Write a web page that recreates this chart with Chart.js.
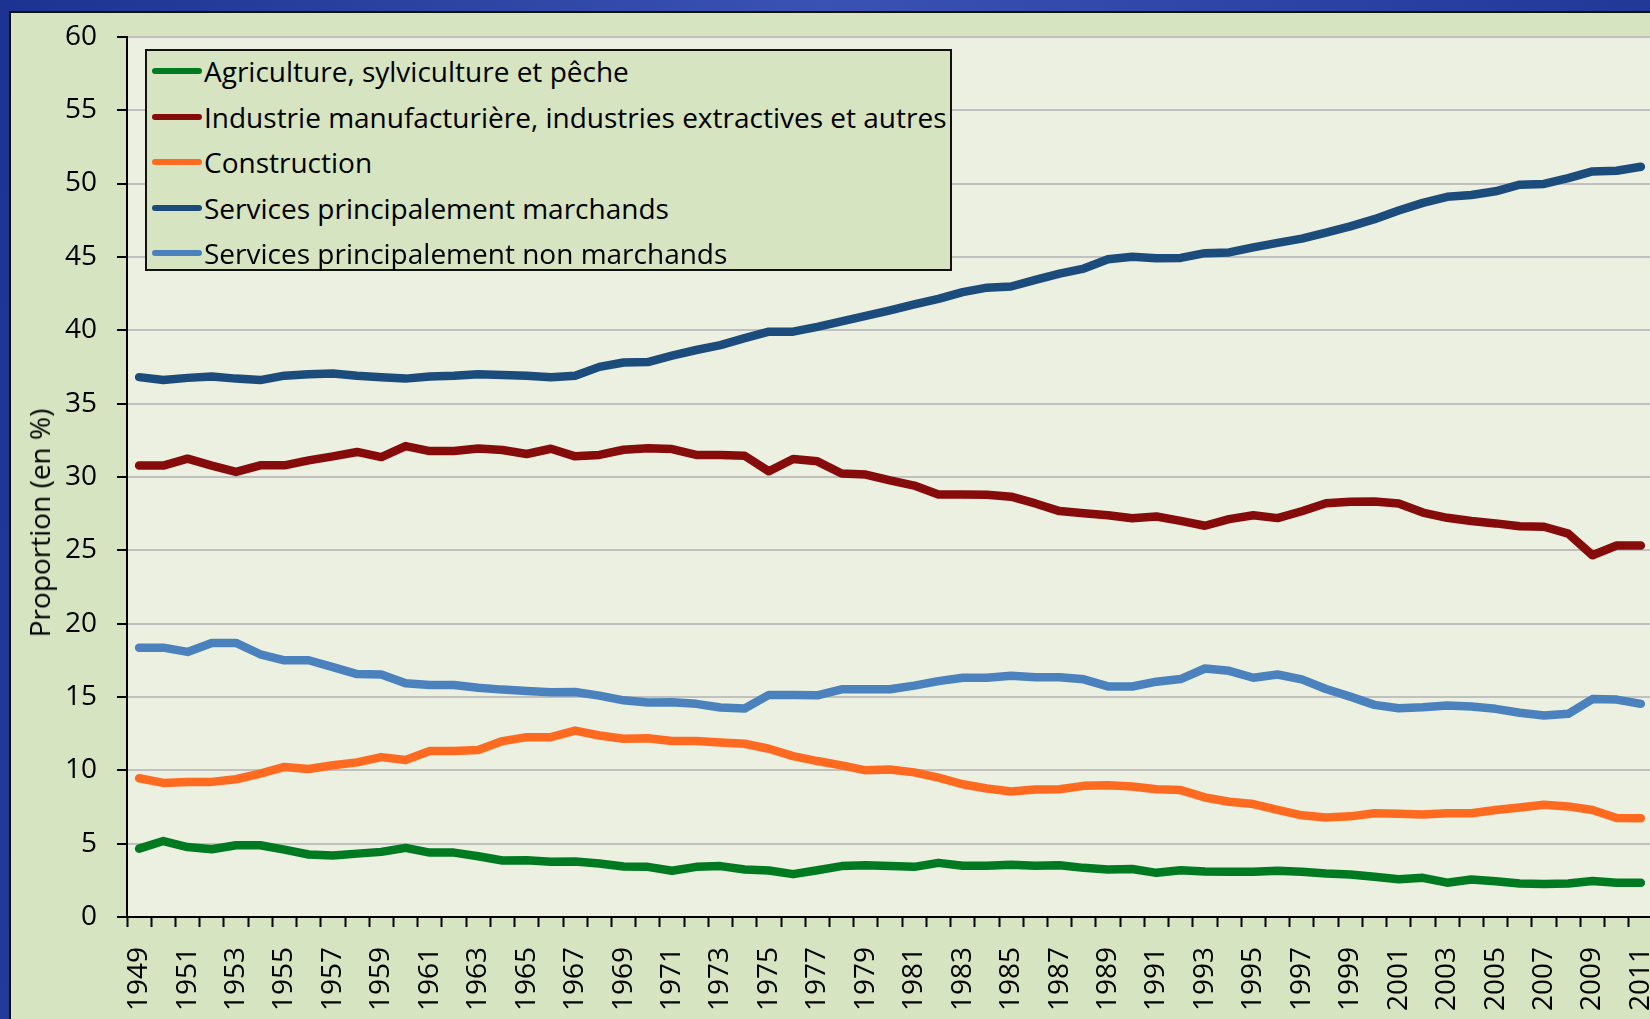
<!DOCTYPE html>
<html>
<head>
<meta charset="utf-8">
<script src="https://cdn.jsdelivr.net/npm/chart.js@4.4.0/dist/chart.umd.min.js"></script>
<style>
    html, body { margin: 0; padding: 0; width: 1650px; height: 1019px; overflow: hidden; }
    body { position: relative; background: linear-gradient(100deg, #1d3391 0%, #3a52b2 45%, #2b41a2 75%, #1d3391 100%); font-family: "Open Sans", sans-serif; }
    #panel { position: absolute; left: 9px; top: 11px; width: 1700px; height: 1100px; background: #d6e4c1; border-left: 2px solid #111; border-top: 2px solid #111; }
    #wrap { position: absolute; left: 0; top: 0; width: 1660px; height: 1019px; }
    #legend { position: absolute; left: 145px; top: 49px; width: 803px; height: 218px; background: #d6e4c1; border: 2px solid #111; }
    .item { position: absolute; left: 0; height: 30px; display: flex; align-items: center; font-size: 28px; color: #000; white-space: nowrap; }
    .swatch { width: 50px; height: 6px; border-radius: 3px; margin-left: 5px; margin-right: 2px; }
    #ytitle { position: absolute; left: 39px; top: 523px; transform: translate(-50%, -50%) rotate(-90deg); font-size: 28px; color: #000; white-space: nowrap; }
</style>
</head>
<body>
<div id="panel"></div>
<div id="wrap"><canvas id="chart" width="1660" height="1019"></canvas></div>
<div id="legend"></div>
<div id="ytitle">Proportion (en %)</div>
<script>
// Données (en % de l'emploi)
const years = ['1949','1950','1951','1952','1953','1954','1955','1956','1957','1958',
    '1959','1960','1961','1962','1963','1964','1965','1966','1967','1968',
    '1969','1970','1971','1972','1973','1974','1975','1976','1977','1978',
    '1979','1980','1981','1982','1983','1984','1985','1986','1987','1988',
    '1989','1990','1991','1992','1993','1994','1995','1996','1997','1998',
    '1999','2000','2001','2002','2003','2004','2005','2006','2007','2008',
    '2009','2010','2011'];

const agriculture = [4.66,5.18,4.77,4.62,4.89,4.89,4.59,4.26,4.19,4.32,
    4.44,4.71,4.39,4.39,4.14,3.85,3.87,3.76,3.78,3.65,
    3.44,3.42,3.15,3.42,3.47,3.24,3.17,2.92,3.19,3.47,
    3.53,3.47,3.42,3.69,3.49,3.49,3.56,3.49,3.53,3.35,
    3.24,3.27,3.01,3.19,3.10,3.08,3.08,3.15,3.08,2.97,
    2.90,2.74,2.58,2.67,2.34,2.56,2.43,2.29,2.25,2.29,
    2.45,2.34,2.34];

const industrie = [30.77,30.77,31.24,30.77,30.34,30.79,30.79,31.13,31.40,31.70,
    31.35,32.10,31.76,31.76,31.94,31.83,31.56,31.92,31.40,31.50,
    31.85,31.96,31.90,31.50,31.50,31.44,30.38,31.22,31.06,30.23,
    30.16,29.77,29.41,28.80,28.80,28.78,28.65,28.19,27.67,27.52,
    27.38,27.18,27.30,27.00,26.67,27.12,27.39,27.19,27.66,28.20,
    28.30,28.32,28.18,27.57,27.21,26.99,26.83,26.63,26.60,26.13,
    24.66,25.32,25.32];

const construction = [9.46,9.14,9.21,9.21,9.39,9.77,10.23,10.09,10.34,10.54,
    10.90,10.70,11.31,11.31,11.38,11.99,12.26,12.26,12.71,12.37,
    12.15,12.19,12.00,11.99,11.90,11.81,11.47,10.97,10.63,10.34,
    10.00,10.05,9.86,9.50,9.05,8.76,8.56,8.69,8.71,8.94,
    8.98,8.90,8.71,8.65,8.15,7.86,7.70,7.31,6.93,6.79,
    6.86,7.07,7.04,6.98,7.07,7.07,7.29,7.47,7.65,7.54,
    7.29,6.75,6.73];

const servMarchands = [36.80,36.60,36.75,36.85,36.70,36.60,36.90,37.00,37.05,36.90,
    36.80,36.70,36.85,36.90,37.00,36.95,36.90,36.80,36.90,37.50,
    37.80,37.83,38.26,38.65,38.98,39.46,39.90,39.90,40.23,40.60,
    40.97,41.35,41.76,42.14,42.60,42.90,42.98,43.43,43.86,44.20,
    44.83,45.00,44.90,44.93,45.25,45.30,45.65,45.95,46.24,46.65,
    47.08,47.57,48.16,48.68,49.09,49.22,49.47,49.92,49.97,50.37,
    50.82,50.87,51.14];

const servNonMarchands = [18.36,18.36,18.07,18.68,18.68,17.91,17.50,17.50,17.03,16.56,
    16.53,15.93,15.81,15.81,15.63,15.50,15.41,15.32,15.34,15.09,
    14.77,14.62,14.64,14.53,14.28,14.21,15.14,15.14,15.11,15.52,
    15.52,15.52,15.77,16.08,16.31,16.31,16.44,16.35,16.35,16.20,
    15.72,15.71,16.04,16.22,16.94,16.78,16.31,16.53,16.20,15.54,
    15.02,14.46,14.23,14.30,14.41,14.35,14.19,13.92,13.74,13.85,
    14.86,14.82,14.53];

const seriesNames = [
    'Agriculture, sylviculture et pêche',
    'Industrie manufacturière, industries extractives et autres',
    'Construction',
    'Services principalement marchands',
    'Services principalement non marchands'
];
const seriesColors = ['#007a21', '#860b0b', '#ff6a21', '#1c4c7c', '#4b82bd'];
const seriesData = [agriculture, industrie, construction, servMarchands, servNonMarchands];

const yTicks = [0, 5, 10, 15, 20, 25, 30, 35, 40, 45, 50, 55, 60];

const FONT = '"Open Sans", Lato, sans-serif';

// fond de la zone de tracé
const plotBg = {
    id: 'plotBg',
    beforeDraw(chart) {
        const { ctx, chartArea: a } = chart;
        ctx.save();
        ctx.fillStyle = '#ebf0e1';
        ctx.fillRect(a.left, a.top, a.right - a.left, a.bottom - a.top);
        ctx.restore();
    }
};

function buildLegend(chart) {
    const box = document.getElementById('legend');
    let html = '';
    chart.data.datasets.forEach((ds, i) => {
        const top = 5 + i * 45.5;
        html += `<div class="item" style="top:${top}px"><span class="swatch" style="background:${ds.borderColor}"></span><span>${ds.label}</span></div>`;
    });
    box.innerHTML = html;
}

const ctx = document.getElementById('chart').getContext('2d');
const chart = new Chart(ctx, {
    type: 'line',
    data: {
        labels: years,
        datasets: seriesData.map((d, i) => ({
            label: seriesNames[i],
            data: d,
            borderColor: seriesColors[i],
            backgroundColor: seriesColors[i],
            borderWidth: 8.5,
            pointRadius: 0,
            tension: 0,
            borderJoinStyle: 'round',
            borderCapStyle: 'round',
            fill: false
        }))
    },
    options: {
        responsive: false,
        animation: false,
        layout: { padding: { left: 0, top: 32, right: 7, bottom: 0 } },
        plugins: { legend: { display: false }, tooltip: { enabled: false } },
        scales: {
            x: {
                offset: true,
                grid: { offset: true, drawOnChartArea: false, drawTicks: true, tickLength: 10, tickColor: '#000', tickWidth: 2 },
                border: { color: '#000', width: 2 },
                ticks: {
                    autoSkip: false, minRotation: 90, maxRotation: 90, padding: 20,
                    color: '#000', font: { family: FONT, size: 28 },
                    callback(v, i) { return i % 2 === 0 ? this.getLabelForValue(v) : ''; }
                },
                afterFit(s) { s.height = 102; s.paddingLeft = 0; s.paddingRight = 0; }
            },
            y: {
                min: yTicks[0], max: yTicks[yTicks.length - 1],
                afterBuildTicks(s) { s.ticks = yTicks.map(v => ({ value: v })); },
                grid: { color: '#c0c0c0', lineWidth: 2, tickColor: '#000', tickLength: 10, tickWidth: 2 },
                border: { color: '#000', width: 2 },
                ticks: { padding: 20, color: '#000', font: { family: FONT, size: 28 } },
                afterFit(s) { s.width = 127; }
            }
        }
    },
    plugins: [plotBg]
});

buildLegend(chart);
</script>
</body>
</html>
